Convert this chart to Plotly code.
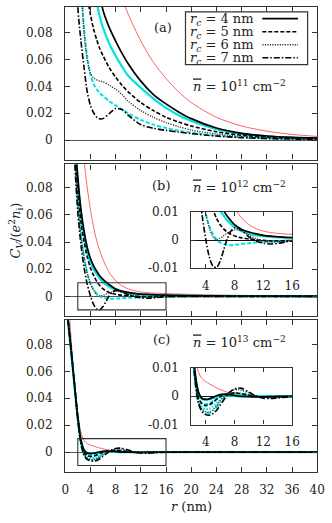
import plotly.graph_objects as go

W, H = 332, 523
FONT = "DejaVu Serif"
INK = "#222222"

R_RANGE = [0, 40]
INSET_R = [2, 16]
INSET_V = [-0.01, 0.01]

# ---- panel (a): n = 1e11 cm^-2 -------------------------------------------
R_A = [1, 1.5, 2, 2.5, 3, 3.5, 4, 4.5, 5, 5.5, 6, 7, 8, 9, 10, 12, 14, 16, 18, 20, 24, 28, 32, 36, 40]
A_RED = [1.0, 0.8, 0.65, 0.52, 0.43, 0.36, 0.31, 0.27, 0.235, 0.205, 0.18, 0.145, 0.122, 0.106, 0.094,
         0.074, 0.058, 0.046, 0.036, 0.028, 0.017, 0.0105, 0.0066, 0.0042, 0.0027]
A_K4 = [0.6, 0.48, 0.4, 0.33, 0.27, 0.22, 0.18, 0.15, 0.128, 0.11, 0.097, 0.084, 0.074, 0.065, 0.057,
        0.044, 0.034, 0.027, 0.021, 0.016, 0.009, 0.005, 0.003, 0.002, 0.0015]
A_C4 = [0.55, 0.44, 0.36, 0.29, 0.23, 0.18, 0.145, 0.12, 0.103, 0.092, 0.084, 0.072, 0.063, 0.055, 0.048,
        0.039, 0.031, 0.024, 0.0185, 0.0142, 0.0082, 0.0046, 0.0028, 0.0018, 0.0012]
A_K5 = [0.45, 0.33, 0.25, 0.18, 0.13, 0.108, 0.094, 0.083, 0.075, 0.068, 0.063, 0.054, 0.047, 0.041, 0.036,
        0.028, 0.022, 0.017, 0.0135, 0.0105, 0.0062, 0.0036, 0.0022, 0.0014, 0.001]
A_C5 = [0.4, 0.3, 0.2, 0.12, 0.083, 0.062, 0.049, 0.042, 0.038, 0.035, 0.033, 0.029, 0.026, 0.023, 0.020,
        0.015, 0.0115, 0.009, 0.007, 0.0055, 0.0033, 0.002, 0.0013, 0.0009, 0.0006]
A_K6 = [0.45, 0.3, 0.2, 0.12, 0.08, 0.06, 0.05, 0.0465, 0.045, 0.044, 0.0435, 0.041, 0.038, 0.034, 0.029,
        0.022, 0.017, 0.013, 0.010, 0.0075, 0.0045, 0.0028, 0.0018, 0.0012, 0.0008]
A_K7 = [0.4, 0.22, 0.1, 0.074, 0.054, 0.036, 0.026, 0.0205, 0.017, 0.0158, 0.016, 0.0198, 0.0236, 0.0228, 0.0185,
        0.0115, 0.0088, 0.0072, 0.006, 0.0048, 0.003, 0.0018, 0.0011, 0.0007, 0.0005]

# ---- panel (b): n = 1e12 cm^-2 -------------------------------------------
R_B = [0.5, 1, 1.5, 2, 2.5, 3, 3.5, 4, 4.5, 5, 5.5, 6, 6.5, 7, 7.5, 8, 8.5, 9, 10, 11, 12, 13, 14, 15, 16,
       18, 20, 24, 28, 32, 36, 40]
B_RED = [0.5, 0.3, 0.22, 0.17, 0.13, 0.1, 0.08, 0.064, 0.051, 0.041, 0.0335, 0.027, 0.022, 0.0175, 0.0143,
         0.0115, 0.0095, 0.0078, 0.0055, 0.0041, 0.0032, 0.0027, 0.0024, 0.0022, 0.002,
         0.0017, 0.0014, 0.001, 0.0007, 0.0005, 0.0003, 0.0002]
B_K4 = [0.35, 0.2, 0.12, 0.088, 0.064, 0.048, 0.036, 0.028, 0.0225, 0.0185, 0.015, 0.0125, 0.0104, 0.0085, 0.0069,
        0.0055, 0.0046, 0.0038, 0.0029, 0.0022, 0.0017, 0.0014, 0.0012, 0.001, 0.0009,
        0.0007, 0.0005, 0.0003, 0.0002, 0.0001, 0.0001, 0.0]
B_C4 = [0.33, 0.19, 0.115, 0.083, 0.06, 0.045, 0.033, 0.025, 0.02, 0.0165, 0.0132, 0.0105, 0.0087, 0.007, 0.0057,
        0.0046, 0.0039, 0.0032, 0.0023, 0.0017, 0.0014, 0.0012, 0.001, 0.0009, 0.0008,
        0.0006, 0.0004, 0.0002, 0.0001, 0.0001, 0.0, 0.0]
B_K5 = [0.33, 0.19, 0.11, 0.078, 0.055, 0.04, 0.029, 0.021, 0.0155, 0.011, 0.0078, 0.0055, 0.004, 0.0028, 0.0021,
        0.0015, 0.0011, 0.0008, 0.0004, 0.0001, -0.0001, -0.0003, -0.0003, -0.0002, -0.0001,
        0.0, 0.0, 0.0, 0.0, 0.0, 0.0, 0.0]
B_C5 = [0.36, 0.2, 0.11, 0.07, 0.045, 0.028, 0.017, 0.0095, 0.005, 0.0022, 0.0002, -0.0009, -0.0014, -0.0017, -0.0018,
        -0.0017, -0.0016, -0.0014, -0.0011, -0.0009, -0.0007, -0.0005, -0.0004, -0.0003, -0.0002,
        -0.0001, 0.0, 0.0, 0.0, 0.0, 0.0, 0.0]
B_K6 = [0.36, 0.2, 0.11, 0.07, 0.045, 0.029, 0.017, 0.0095, 0.0045, 0.0012, 0.0002, 0.0007, 0.0016, 0.0025, 0.0032,
        0.0036, 0.0037, 0.0033, 0.0018, 0.0005, -0.0003, -0.0007, -0.0006, -0.0004, -0.0002,
        0.0, 0.0, 0.0, 0.0, 0.0, 0.0, 0.0]
B_K7 = [0.3, 0.17, 0.1, 0.062, 0.038, 0.021, 0.009, 0.0005, -0.006, -0.0093, -0.0098, -0.0075, -0.0035, 0.0005, 0.0032,
        0.0044, 0.0043, 0.0035, 0.0012, -0.0003, -0.0011, -0.0014, -0.0012, -0.0007, -0.0003,
        0.0, 0.0, 0.0, 0.0, 0.0, 0.0, 0.0]

# ---- panel (c): n = 1e13 cm^-2 -------------------------------------------
R_C = [0, 0.5, 1, 1.5, 2, 2.5, 3, 3.5, 4, 4.5, 5, 5.5, 6, 6.5, 7, 7.5, 8, 8.5, 9, 10, 11, 12, 13, 14, 16,
       20, 24, 28, 32, 36, 40]
C_RED = [0.16, 0.115, 0.08, 0.051, 0.029, 0.0145, 0.0085, 0.0063, 0.0052, 0.0044, 0.0037, 0.003, 0.0024, 0.0019,
         0.0014, 0.0011, 0.0008, 0.0007, 0.0005, 0.0003, 0.0002, 0.0002, 0.0001, 0.0001, 0.0,
         0.0, 0.0, 0.0, 0.0, 0.0, 0.0]
C_K4 = [0.115, 0.096, 0.073, 0.049, 0.026, 0.009, 0.0015, -0.0008, -0.0011, -0.0009, -0.0004, 0.0002, 0.0006, 0.0008,
        0.0007, 0.0005, 0.0003, 0.0001, 0.0, -0.0001, -0.0002, -0.0002, -0.0001, 0.0, 0.0,
        0.0, 0.0, 0.0, 0.0, 0.0, 0.0]
C_C4 = [0.115, 0.095, 0.072, 0.048, 0.025, 0.0085, 0.0008, -0.001, -0.0012, -0.001, -0.0006, -0.0002, 0.0001, 0.0002,
        0.0002, 0.0002, 0.0001, 0.0, 0.0, 0.0, 0.0, 0.0, 0.0, 0.0, 0.0,
        0.0, 0.0, 0.0, 0.0, 0.0, 0.0]
C_K5 = [0.115, 0.096, 0.073, 0.049, 0.025, 0.0078, -0.0005, -0.0027, -0.0033, -0.003, -0.0022, -0.0011, -0.0002, 0.0005,
        0.0009, 0.0011, 0.0012, 0.0011, 0.0009, 0.0004, 0.0, -0.0003, -0.0003, -0.0002, 0.0,
        0.0, 0.0, 0.0, 0.0, 0.0, 0.0]
C_C5 = [0.115, 0.095, 0.072, 0.048, 0.024, 0.0072, -0.0008, -0.0025, -0.0028, -0.0025, -0.0017, -0.0008, -0.0001, 0.0003,
        0.0004, 0.0004, 0.0003, 0.0002, 0.0001, 0.0, 0.0, 0.0, 0.0, 0.0, 0.0,
        0.0, 0.0, 0.0, 0.0, 0.0, 0.0]
C_K6 = [0.115, 0.096, 0.073, 0.049, 0.025, 0.007, -0.0015, -0.0045, -0.0055, -0.0056, -0.0048, -0.0034, -0.0017, -0.0002,
        0.001, 0.0018, 0.0023, 0.0024, 0.0021, 0.0011, 0.0001, -0.0004, -0.0005, -0.0004, -0.0001,
        0.0, 0.0, 0.0, 0.0, 0.0, 0.0]
C_C6 = [0.115, 0.095, 0.072, 0.048, 0.024, 0.0065, -0.0018, -0.0038, -0.0045, -0.0044, -0.0036, -0.0024, -0.0011, 0.0,
        0.0006, 0.0008, 0.0008, 0.0006, 0.0004, 0.0001, 0.0, 0.0, 0.0, 0.0, 0.0,
        0.0, 0.0, 0.0, 0.0, 0.0, 0.0]
C_K7 = [0.115, 0.096, 0.073, 0.049, 0.025, 0.0065, -0.0025, -0.0055, -0.0065, -0.0067, -0.0062, -0.005, -0.0032, -0.0013,
        0.0005, 0.0018, 0.0026, 0.0029, 0.0028, 0.0015, 0.0, -0.0007, -0.0008, -0.0006, -0.0001,
        0.0, 0.0, 0.0, 0.0, 0.0, 0.0]
C_C7 = [0.115, 0.095, 0.072, 0.048, 0.024, 0.006, -0.0025, -0.005, -0.006, -0.006, -0.0052, -0.0038, -0.0022, -0.0006,
        0.0005, 0.001, 0.0012, 0.0011, 0.0009, 0.0003, 0.0, 0.0, 0.0, 0.0, 0.0,
        0.0, 0.0, 0.0, 0.0, 0.0, 0.0]

RC_LABELS = ["4", "5", "6", "7"]
DENSITY_EXP = ["11", "12", "13"]
PANEL_TAGS = ["(a)", "(b)", "(c)"]

# line styles: (colour, dash, width)
_STYLE = {
    "red": ("#ff5050", "solid", 0.9),
    "c4": ("#00e2e2", "solid", 2.2),
    "c5": ("#00e2e2", "4px,2px", 2.0),
    "c6": ("#00e2e2", "1.5px,1.5px", 2.0),
    "c7": ("#00e2e2", "6px,2px,1.5px,2px", 2.0),
    "k4": ("#000000", "solid", 1.7),
    "k5": ("#000000", "4px,2px", 1.6),
    "k6": ("#333333", "1.2px,1.3px", 1.3),
    "k7": ("#000000", "6px,2px,1.5px,2px", 1.6),
}
_DRAW_ORDER = ["red", "c4", "c5", "c6", "c7", "k4", "k5", "k6", "k7"]

PANEL_CURVES = [
    (R_A, {"red": A_RED, "c4": A_C4, "c5": A_C5, "k4": A_K4, "k5": A_K5, "k6": A_K6, "k7": A_K7}),
    (R_B, {"red": B_RED, "c4": B_C4, "c5": B_C5, "k4": B_K4, "k5": B_K5, "k6": B_K6, "k7": B_K7}),
    (R_C, {"red": C_RED, "c4": C_C4, "c5": C_C5, "c6": C_C6, "c7": C_C7,
           "k4": C_K4, "k5": C_K5, "k6": C_K6, "k7": C_K7}),
]


def px_x(x):
    return x / W


def px_y(y):
    return 1 - y / H


# frame geometry measured in screen pixels (top, bottom) + value range
X_DOM = [px_x(63.5), px_x(325)]
MAIN = [
    {"ax": "", "dom": (0, 156.7), "yr": [-0.01455, 0.09942]},
    {"ax": "2", "dom": (161.7, 317.7), "yr": [-0.01462, 0.0972]},
    {"ax": "3", "dom": (321.7, 477.7), "yr": [-0.01476, 0.0981]},
]
INSETS = {1: {"ax": "4", "dom": (210.7, 268.3)}, 2: {"ax": "5", "dom": (371, 429)}}
INSET_X_DOM = [px_x(194.3), px_x(299)]

tick_font = dict(family=FONT, size=12, color=INK)
frame = dict(showline=True, linecolor="#333333", linewidth=1.4, mirror="allticks",
             ticks="inside", tickcolor="#333333", showgrid=False)

fig = go.Figure()

for i, (r, curves) in enumerate(PANEL_CURVES):
    axes = [MAIN[i]["ax"]]
    if i in INSETS:
        axes.append(INSETS[i]["ax"])
    for ax in axes:
        for key in _DRAW_ORDER:
            if key not in curves:
                continue
            colour, dash, width = _STYLE[key]
            fig.add_trace(go.Scatter(
                x=r, y=curves[key], mode="lines",
                line=dict(color=colour, dash=dash, width=width, shape="spline", smoothing=0.8),
                xaxis="x" + ax, yaxis="y" + ax, showlegend=False, hoverinfo="skip",
            ))

layout = {}
for i, p in enumerate(MAIN):
    ax = p["ax"]
    top, bot = p["dom"]
    layout["xaxis" + ax] = dict(
        frame, domain=X_DOM, range=R_RANGE, dtick=4, ticklen=5, anchor="y" + ax,
        showticklabels=(i == 2), tickfont=tick_font, ticklabelstandoff=6, zeroline=False,
    )
    layout["yaxis" + ax] = dict(
        frame, domain=[px_y(bot), px_y(top)], range=p["yr"], ticklen=5, anchor="x" + ax,
        tickvals=[0, 0.02, 0.04, 0.06, 0.08], ticktext=["0", "0.02", "0.04", "0.06", "0.08"],
        tickfont=tick_font, ticklabelstandoff=9,
        zeroline=True, zerolinecolor="#555555", zerolinewidth=1.3,
    )

for i, ins in INSETS.items():
    ax = ins["ax"]
    top, bot = ins["dom"]
    layout["xaxis" + ax] = dict(
        frame, domain=INSET_X_DOM, range=INSET_R, tickvals=[4, 8, 12, 16], ticklen=4,
        anchor="y" + ax, tickfont=tick_font, ticklabelstandoff=6, zeroline=False, linewidth=1.2,
    )
    layout["yaxis" + ax] = dict(
        frame, domain=[px_y(bot), px_y(top)], range=INSET_V, tickvals=[-0.01, 0, 0.01],
        ticktext=["-0.01", "0", "0.01"], ticklen=4, anchor="x" + ax, tickfont=tick_font,
        ticklabelstandoff=9, zeroline=True, zerolinecolor="#111111", zerolinewidth=1.1, linewidth=1.2,
    )

shapes = []
# zoom boxes marking the inset region on panels (b) and (c)
for i in INSETS:
    ax = MAIN[i]["ax"]
    shapes.append(dict(type="rect", xref="x" + ax, yref="y" + ax,
                       x0=INSET_R[0], x1=INSET_R[1], y0=INSET_V[0], y1=INSET_V[1],
                       line=dict(color="#333333", width=1.1)))

annotations = []
text_font = dict(family=FONT, size=13, color=INK)
NBAR = '<span style="text-decoration:overline"><i>n</i></span>'

# hand-drawn key in panel (a): label on the left, line sample on the right
shapes.append(dict(type="rect", xref="paper", yref="paper",
                   x0=px_x(188.3), x1=px_x(315), y0=px_y(59.3), y1=px_y(5),
                   line=dict(color="#333333", width=1.2), fillcolor="white"))
for j, rc in enumerate(RC_LABELS):
    yrow = 12 + j * 13.4
    colour, dash, width = _STYLE["k" + str(4 + j)]
    shapes.append(dict(type="line", xref="paper", yref="paper",
                       x0=px_x(268), x1=px_x(305), y0=px_y(yrow), y1=px_y(yrow),
                       line=dict(color=colour, dash=dash, width=width)))
    annotations.append(dict(
        text=f"<i>r</i><sub><i>c</i></sub> = {rc} nm", xref="paper", yref="paper",
        x=px_x(191), y=px_y(yrow + 0.5), xanchor="left", yanchor="middle", showarrow=False,
        font=text_font,
    ))

tag_pos = [(165, 21), (163, 183), (163, 342)]
dens_pos = [(244, 81), (244, 185), (244, 344)]
for tag, (tx, ty), exp, (dx, dy) in zip(PANEL_TAGS, tag_pos, DENSITY_EXP, dens_pos):
    annotations.append(dict(text=tag, xref="paper", yref="paper", x=px_x(tx), y=px_y(ty),
                            showarrow=False, font=text_font, xanchor="center", yanchor="middle"))
    annotations.append(dict(text=f"{NBAR} = 10<sup>{exp}</sup> cm<sup>\u22122</sup>",
                            xref="paper", yref="paper", x=px_x(dx), y=px_y(dy),
                            showarrow=False, font=text_font, xanchor="center", yanchor="middle"))

annotations.append(dict(text="<i>r</i> (nm)", xref="paper", yref="paper",
                        x=px_x(194.3), y=px_y(513), showarrow=False, font=text_font,
                        xanchor="center", yanchor="middle"))
annotations.append(dict(text="<i>C</i><sub><i>V</i></sub>/(<i>e</i><sup>2</sup><i>n</i><sub>i</sub>)",
                        xref="paper", yref="paper", x=px_x(12), y=px_y(230), textangle=-90,
                        showarrow=False, font=text_font, xanchor="center", yanchor="middle"))

fig.update_layout(
    width=W, height=H,
    margin=dict(l=0, r=0, t=0, b=0),
    paper_bgcolor="white", plot_bgcolor="white",
    showlegend=False,
    shapes=shapes, annotations=annotations,
    **layout,
)

# the page body's default 8px margin would push the fixed-size figure off the window
fig.write_html("out.html", config={"displayModeBar": False},
               post_script="document.body.style.margin='0';document.body.style.overflow='hidden';")
